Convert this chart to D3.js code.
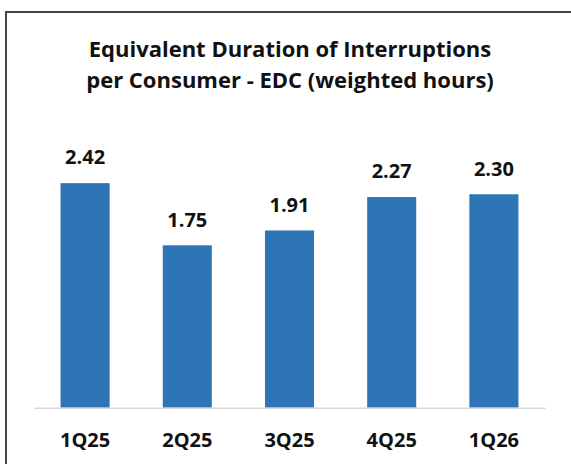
<!DOCTYPE html>
<html>
<head>
<meta charset="utf-8">
<script src="https://cdn.jsdelivr.net/npm/d3@7"></script>
<style>
  body { margin: 0; background: #fff; }
  svg { display: block; font-family: "Open Sans", Lato, sans-serif; }
</style>
</head>
<body>
<svg id="chart" width="571" height="464"></svg>
<script>
// Chart data
let quarters = ["1Q25", "2Q25", "3Q25", "4Q25", "1Q26"];
let edcValues = [2.42, 1.75, 1.91, 2.27, 2.30];
let titleLines = ["Equivalent Duration of Interruptions", "per Consumer - EDC (weighted hours)"];

let svg = d3.select("#chart");

// outer frame (only top and left edge visible in the crop)
svg.append("path")
  .attr("d", "M6,465 L6,12 L572,12")
  .attr("fill", "none")
  .attr("stroke", "#454545")
  .attr("stroke-width", 2);

// title
svg.append("g")
  .selectAll("text")
  .data(titleLines)
  .enter()
  .append("text")
  .attr("x", 290)
  .attr("y", function (d, i) {
    return 56.7 + i * 30.8;
  })
  .attr("text-anchor", "middle")
  .attr("font-size", 22)
  .attr("font-weight", "bold")
  .attr("fill", "#111")
  .text(function (d) {
    return d;
  });

// scales
let x = d3.scaleBand()
  .domain(quarters)
  .range([34, 545])
  .paddingInner(0.52)
  .paddingOuter(0.26);

let y = d3.scaleLinear()
  .domain([0, 3])
  .range([407.7, 129.3]);

// bars
svg.append("g")
  .selectAll("rect")
  .data(edcValues)
  .enter()
  .append("rect")
  .attr("x", function (d, i) {
    return x(quarters[i]);
  })
  .attr("y", function (d) {
    return y(d);
  })
  .attr("width", x.bandwidth())
  .attr("height", function (d) {
    return y(0) - y(d);
  })
  .attr("fill", "#2E75B6");

// value labels
svg.append("g")
  .selectAll("text")
  .data(edcValues)
  .enter()
  .append("text")
  .attr("x", function (d, i) {
    return x(quarters[i]) + x.bandwidth() / 2;
  })
  .attr("y", function (d) {
    return y(d) - 18.7;
  })
  .attr("text-anchor", "middle")
  .attr("font-size", 20)
  .attr("font-weight", "bold")
  .attr("fill", "#111")
  .text(function (d) {
    return d.toFixed(2);
  });

// category axis
let axis = svg.append("g")
  .attr("transform", "translate(0," + y(0) + ")")
  .call(d3.axisBottom(x).tickSize(0).tickPadding(0));

axis.select(".domain")
  .attr("stroke", "#D9D9D9")
  .attr("stroke-width", 1.5);

axis.selectAll("text")
  .attr("dy", null)
  .attr("y", 39)
  .attr("font-family", "'Open Sans', Lato, sans-serif")
  .attr("font-size", 20)
  .attr("font-weight", "bold")
  .attr("fill", "#111");
</script>
</body>
</html>
